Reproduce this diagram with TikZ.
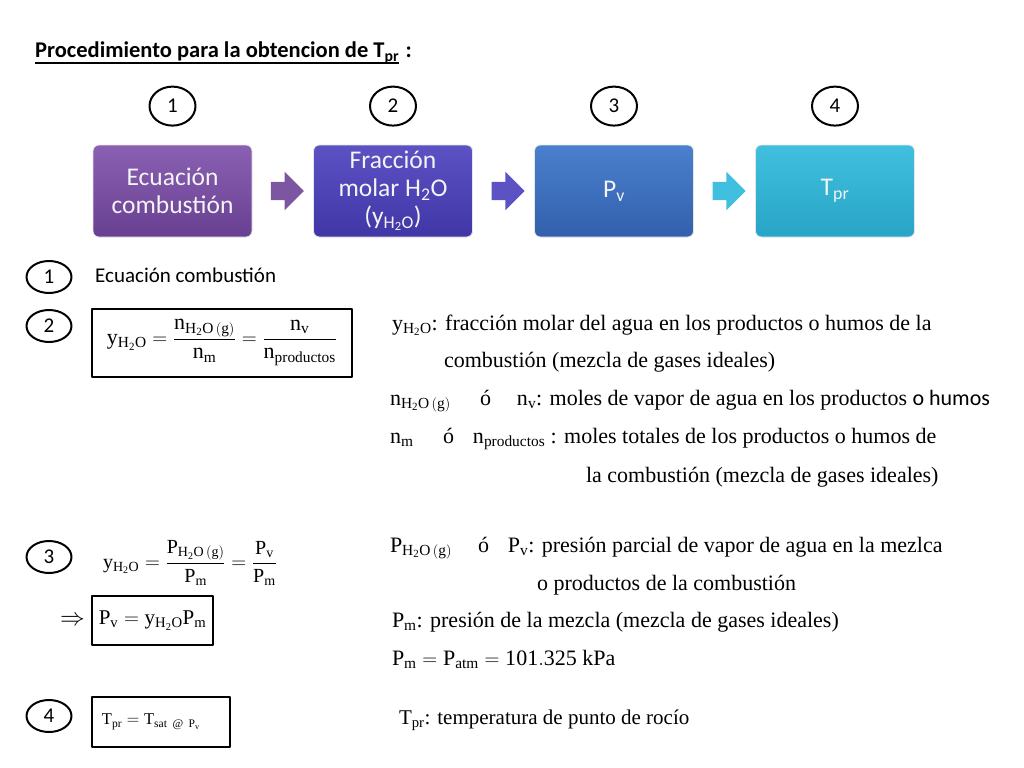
\documentclass[tikz,border=0pt]{standalone}
\usepackage{amsmath}
\usepackage{fontspec}
\setmainfont{Liberation Serif}
\newfontfamily\calibri{Carlito}
\usetikzlibrary{positioning,calc,shapes.geometric,shapes.arrows}

\definecolor{purpTop}{RGB}{138,96,178}
\definecolor{purpBot}{RGB}{104,64,146}
\definecolor{violTop}{RGB}{92,82,196}
\definecolor{violBot}{RGB}{64,54,166}
\definecolor{blueTop}{RGB}{74,128,206}
\definecolor{blueBot}{RGB}{50,96,172}
\definecolor{cyanTop}{RGB}{64,192,222}
\definecolor{cyanBot}{RGB}{40,164,198}
\definecolor{boxText}{RGB}{244,244,244}

\newcommand{\mr}[1]{\mathrm{#1}}
\newcommand{\yagua}{\mr{y}_{\mr{H_2O}}}

\begin{document}
\begin{tikzpicture}[x=1bp, y=1bp, line cap=round, line join=round,
  stepbox/.style={rounded corners=6bp, minimum width=159bp, minimum height=92bp,
    inner sep=2bp, align=center, text=boxText, draw=white!80!gray, line width=0.8bp,
    font=\calibri\fontsize{25.5bp}{28bp}\selectfont},
  numcirc/.style={ellipse, draw=black, line width=2bp, minimum width=46bp,
    minimum height=39bp, inner sep=0pt, font=\calibri\fontsize{21bp}{24bp}\selectfont},
  smallcirc/.style={numcirc, minimum width=45bp, minimum height=32bp},
  flowarrow/.style={single arrow, draw=none, minimum height=33bp, inner xsep=0pt,
    inner ysep=9bp, single arrow head extend=10bp},
  eqbox/.style={draw=black, line width=2bp, inner sep=0pt},
  txt/.style={anchor=base west, inner sep=0pt, outer sep=0pt,
    font=\fontsize{22bp}{26bp}\selectfont}]
  \useasboundingbox (0,0) rectangle (1024,-768);

  % titulo
  \node[anchor=base west, inner sep=0pt, font=\calibri\bfseries\fontsize{22.5bp}{26bp}\selectfont] (titulo) at (35,-58)
    {Procedimiento para la obtencion de T\textsubscript{pr}};
  \node[anchor=base west, inner sep=0pt, font=\calibri\bfseries\fontsize{22.5bp}{26bp}\selectfont] (dospuntos)
    at ($(titulo.base east)+(6,0)$) {:};
  \draw[line width=1.6bp, line cap=butt] ($(titulo.base west)+(0,-5)$) -- ($(titulo.base east)+(0,-5)$);

  % pasos
  \node[stepbox, top color=purpTop, bottom color=purpBot] (s1) at (172.5,-191) {Ecuación\\combustión};
  \node[stepbox, top color=violTop, bottom color=violBot] (s2) at (393,-191)
    {Fracción\\molar H\textsubscript{2}O\\(y\textsubscript{H\textsubscript{2}O})};
  \node[stepbox, top color=blueTop, bottom color=blueBot] (s3) at (614,-191) {P\textsubscript{v}};
  \node[stepbox, top color=cyanTop, bottom color=cyanBot] (s4) at (835,-191) {T\textsubscript{pr}};

  \node[numcirc, above=18bp of s1] (c1) {1};
  \node[numcirc, above=18bp of s2] (c2) {2};
  \node[numcirc, above=18bp of s3] (c3) {3};
  \node[numcirc, above=18bp of s4] (c4) {4};

  \node[flowarrow, fill=purpTop!90!black] (a12) at ($(s1.east)!0.5!(s2.west)$) {};
  \node[flowarrow, fill=violTop] (a23) at ($(s2.east)!0.5!(s3.west)$) {};
  \node[flowarrow, fill=cyanTop] (a34) at ($(s3.east)!0.5!(s4.west)$) {};

  % 1
  \node[smallcirc] (n1) at (49,-277) {1};
  \node[anchor=base west, inner sep=0pt, font=\calibri\fontsize{21bp}{24bp}\selectfont] (ecu) at (95,-282) {Ecuación combustión};

  % 2
  \node[smallcirc] (n2) at (49,-326) {2};
  \node[eqbox, minimum width=260bp, minimum height=68bp, font=\fontsize{22bp}{26bp}\selectfont] (eq2) at (222,-342.5)
    {$\yagua = \dfrac{\mr{n}_{\mr{H_2O\,(g)}}}{\mr{n_m}} = \dfrac{\mr{n_v}}{\mr{n_{productos}}}$};
  \node[txt] (d21) at (392,-330) {$\yagua$: fracción molar del agua en los productos o humos de la};
  \node[txt] (d22) at (444,-367) {combustión (mezcla de gases ideales)};
  \node[txt] (d23) at (390,-405) {\makebox[90bp][l]{$\mr{n}_{\mr{H_2O\,(g)}}$}\makebox[37bp][l]{ó}$\mr{n_v}$: moles de vapor de agua en los productos {\calibri o humos}};
  \node[txt] (d24) at (390,-443) {\makebox[53bp][l]{$\mr{n_m}$}\makebox[30bp][l]{ó}$\mr{n_{productos}}$ : moles totales de los productos o humos de};
  \node[txt] (d25) at (586,-482) {la combustión (mezcla de gases ideales)};

  % 3
  \node[smallcirc] (n3) at (49,-557) {3};
  \node[inner sep=0pt, font=\fontsize{20bp}{24bp}\selectfont] (eq3) at (190,-563)
    {$\yagua = \dfrac{\mr{P}_{\mr{H_2O\,(g)}}}{\mr{P_m}} = \dfrac{\mr{P_v}}{\mr{P_m}}$};
  \node[eqbox, minimum width=121bp, minimum height=49bp, font=\fontsize{21bp}{25bp}\selectfont] (eq3b) at (152.5,-620.5)
    {$\mr{P_v} = \yagua\mr{P_m}$};
  \node[inner sep=0pt, font=\fontsize{24bp}{28bp}\selectfont, left=6bp of eq3b] (impl) {$\Rightarrow$};
  \node[txt] (d31) at (390,-552) {\makebox[88bp][l]{$\mr{P}_{\mr{H_2O\,(g)}}$}\makebox[30bp][l]{ó}$\mr{P_v}$: presión parcial de vapor de agua en la mezlca};
  \node[txt] (d32) at (537,-590) {o productos de la combustión};
  \node[txt] (d33) at (392,-627) {$\mr{P_m}$: presión de la mezcla (mezcla de gases ideales)};
  \node[txt] (d34) at (392,-665) {$\mr{P_m} = \mr{P_{atm}} = \mr{101.325\ kPa}$};

  % 4
  \node[smallcirc] (n4) at (49,-716) {4};
  \node[eqbox, minimum width=138bp, minimum height=50bp, text width=118bp, align=left,
    font=\fontsize{16.5bp}{20bp}\selectfont] (eq4) at (161,-722)
    {$\mr{T_{pr}} = \mr{T}_{\mr{sat\ @\ P_v}}$};
  \node[txt, font=\fontsize{21bp}{25bp}\selectfont] (d41) at (399,-724) {$\mr{T_{pr}}$: temperatura de punto de rocío};
\end{tikzpicture}
\end{document}
